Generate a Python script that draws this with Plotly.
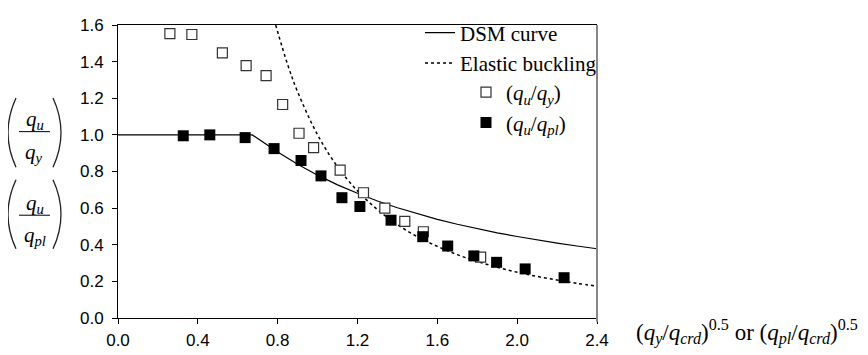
import plotly.graph_objects as go

# ---- data ----
dsm_x = [0.0, 0.2, 0.4, 0.6, 0.673, 0.8, 0.9, 1.0, 1.1, 1.2, 1.3, 1.4, 1.5, 1.6,
         1.7, 1.8, 1.9, 2.0, 2.1, 2.2, 2.3, 2.4]
dsm_y = [1.0, 1.0, 1.0, 1.0, 1.0, 0.906, 0.840, 0.780, 0.727, 0.681, 0.639, 0.602,
         0.569, 0.539, 0.512, 0.488, 0.465, 0.445, 0.426, 0.409, 0.393, 0.378]

elastic_x = [0.79, 0.85, 0.9, 1.0, 1.1, 1.2, 1.3, 1.4, 1.5, 1.6, 1.7, 1.8, 1.9,
             2.0, 2.1, 2.2, 2.3, 2.4]
elastic_y = [1.60, 1.384, 1.235, 1.0, 0.826, 0.694, 0.592, 0.510, 0.444, 0.391,
             0.346, 0.309, 0.277, 0.250, 0.227, 0.207, 0.189, 0.174]

qy_x = [0.26, 0.37, 0.523, 0.642, 0.742, 0.825, 0.907, 0.98, 1.113, 1.23, 1.337,
        1.437, 1.53, 1.817]
qy_y = [1.553, 1.548, 1.448, 1.378, 1.324, 1.166, 1.009, 0.930, 0.808, 0.684,
        0.600, 0.528, 0.471, 0.332]

qpl_x = [0.327, 0.46, 0.637, 0.782, 0.917, 1.017, 1.122, 1.212, 1.368, 1.527,
         1.652, 1.783, 1.897, 2.04, 2.235]
qpl_y = [0.995, 1.0, 0.985, 0.925, 0.860, 0.776, 0.657, 0.609, 0.534, 0.444,
         0.393, 0.339, 0.304, 0.268, 0.220]

x_ticks = [0.0, 0.4, 0.8, 1.2, 1.6, 2.0, 2.4]
y_ticks = [0.0, 0.2, 0.4, 0.6, 0.8, 1.0, 1.2, 1.4, 1.6]

SERIF = "Liberation Serif"
SANS = "Liberation Sans"

# page has an 8px body margin; plot area given in screen pixels
OFF = 8
W, H = 860, 347
L, R, T, B = 118, 597, 13, 318


def px(x):
    return (x - L) / (R - L)


def py(y):
    return (B - y) / (B - T)


fig = go.Figure()
fig.add_trace(go.Scatter(x=dsm_x, y=dsm_y, mode="lines", name="DSM curve",
                         line=dict(color="black", width=1.2),
                         legend="legend", legendgroup="a"))
fig.add_trace(go.Scatter(x=elastic_x, y=elastic_y, mode="lines", name="Elastic buckling",
                         line=dict(color="black", width=1.5, dash="dot", shape="spline"),
                         legend="legend", legendgroup="b"))
fig.add_trace(go.Scatter(x=qy_x, y=qy_y, mode="markers",
                         name="(<i>q<sub>u</sub></i>/<i>q<sub>y</sub></i>)",
                         marker=dict(symbol="square", size=10, color="white",
                                     line=dict(color="#333", width=1.2)),
                         legend="legend2", legendgroup="c"))
fig.add_trace(go.Scatter(x=qpl_x, y=qpl_y, mode="markers",
                         name="(<i>q<sub>u</sub></i>/<i>q<sub>pl</sub></i>)",
                         marker=dict(symbol="square", size=11, color="black",
                                     line=dict(color="black", width=0)),
                         legend="legend2", legendgroup="d"))

shapes = []
# right border (gray)
shapes.append(dict(type="line", xref="paper", yref="paper", x0=1, x1=1, y0=py(322), y1=1,
                   line=dict(color="#888", width=2)))
# parentheses and fraction bars of the y label
for top, bot, bar in [(89, 161, 124), (174, 246, 211)]:
    mid = (top + bot) / 2
    shapes.append(dict(type="path", xref="paper", yref="paper",
                       path=f"M {px(16)},{py(top)} Q {px(0)},{py(mid)} {px(16)},{py(bot)}",
                       line=dict(color="#222", width=1.3)))
    shapes.append(dict(type="path", xref="paper", yref="paper",
                       path=f"M {px(53)},{py(top)} Q {px(69)},{py(mid)} {px(53)},{py(bot)}",
                       line=dict(color="#222", width=1.3)))
    shapes.append(dict(type="line", xref="paper", yref="paper", x0=px(19), x1=px(50),
                       y0=py(bar), y1=py(bar), line=dict(color="black", width=1)))

annotations = []
for txt, x, y in [("<i>q<sub>u</sub></i>", 35, 112), ("<i>q<sub>y</sub></i>", 34, 146),
                  ("<i>q<sub>u</sub></i>", 35, 199), ("<i>q<sub>pl</sub></i>", 35, 233)]:
    annotations.append(dict(text=txt, xref="paper", yref="paper", x=px(x), y=py(y),
                            showarrow=False, xanchor="center", yanchor="middle",
                            font=dict(family=SERIF, size=21, color="black")))
annotations.append(dict(
    text="(<i>q<sub>y</sub></i>/<i>q<sub>crd</sub></i>)<sup>0.5</sup> or "
         "(<i>q<sub>pl</sub></i>/<i>q<sub>crd</sub></i>)<sup>0.5</sup>",
    xref="paper", yref="paper", x=px(634), y=py(333), showarrow=False,
    xanchor="left", yanchor="middle", font=dict(family=SERIF, size=23, color="black")))

fig.update_layout(
    width=W, height=H,
    margin=dict(l=L - OFF, r=W - (R - OFF), t=T - OFF, b=H - (B - OFF), pad=0),
    plot_bgcolor="white", paper_bgcolor="white",
    showlegend=True,
    legend=dict(x=px(420), y=py(0), xanchor="left", yanchor="top",
                font=dict(family=SERIF, size=21, color="black"),
                bgcolor="rgba(0,0,0,0)", traceorder="grouped", tracegroupgap=0,
                itemwidth=30),
    legend2=dict(x=px(466), y=py(62), xanchor="left", yanchor="top",
                 font=dict(family=SERIF, size=21, color="black"),
                 bgcolor="rgba(0,0,0,0)", traceorder="grouped", tracegroupgap=0,
                 itemwidth=30),
    xaxis=dict(range=[0, 2.4], tickvals=x_ticks, ticktext=[f"{v:.1f}" for v in x_ticks],
               ticks="outside", ticklen=5, tickcolor="black", showline=True,
               linecolor="black", linewidth=1, mirror=True, showgrid=False,
               zeroline=False, ticklabelstandoff=2,
               tickfont=dict(family=SANS, size=17, color="black")),
    yaxis=dict(range=[0, 1.6], tickvals=y_ticks, ticktext=[f"{v:.1f}" for v in y_ticks],
               ticks="outside", ticklen=5, tickcolor="black", showline=True,
               linecolor="black", linewidth=1, showgrid=False, zeroline=False,
               ticklabelstandoff=5,
               tickfont=dict(family=SANS, size=17, color="black")),
    shapes=shapes, annotations=annotations,
)

fig.write_html("out.html")
